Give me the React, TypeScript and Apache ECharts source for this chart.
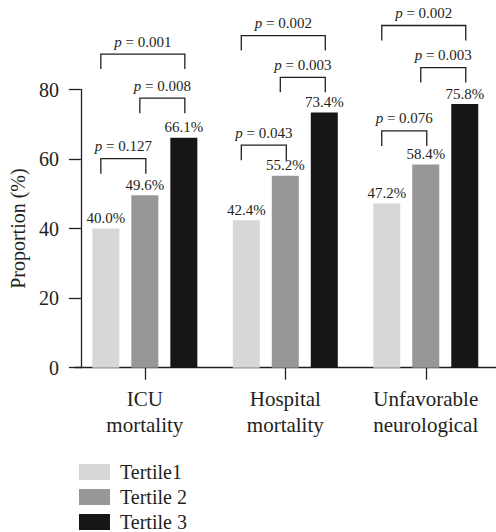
import React, { useEffect, useRef } from "react";
import * as echarts from "echarts";

const categories = ["ICU\nmortality", "Hospital\nmortality", "Unfavorable\nneurological"];
const seriesNames = ["Tertile1", "Tertile 2", "Tertile 3"];
const tertile1 = [40.0, 42.4, 47.2];
const tertile2 = [49.6, 55.2, 58.4];
const tertile3 = [66.1, 73.4, 75.8];
const yTicks = [0, 20, 40, 60, 80];

// [category index, from bar, to bar, bracket top value, p-value]
const brackets: [number, number, number, number, string][] = [
  [0, 0, 1, 60.1, "0.127"],
  [0, 1, 2, 77.5, "0.008"],
  [0, 0, 2, 90.2, "0.001"],
  [1, 0, 1, 64.0, "0.043"],
  [1, 1, 2, 83.5, "0.003"],
  [1, 0, 2, 95.5, "0.002"],
  [2, 0, 1, 68.1, "0.076"],
  [2, 1, 2, 86.3, "0.003"],
  [2, 0, 2, 98.4, "0.002"],
];

const colors = ["#d7d7d7", "#979797", "#161616"];
const FONT = "'Liberation Serif', 'Times New Roman', serif";
const TEXT = "#231f20";
const BAR_W = 27;
const BAR_GAP = 12;

export default function App() {
  const ref = useRef<HTMLDivElement>(null);
  useEffect(() => {
    document.body.style.margin = "0";
    const chart = echarts.init(ref.current!, null, { renderer: "svg" });
    const values = [tertile1, tertile2, tertile3];
    const pitch = BAR_W + BAR_GAP;
    chart.setOption({
      animation: false,
      textStyle: { fontFamily: FONT, color: TEXT },
      grid: { left: 72.7, top: 89.5, width: 430.8, bottom: 164.3 },
      legend: {
        orient: "vertical",
        left: 79,
        top: 462,
        padding: 0,
        itemWidth: 31,
        itemHeight: 16,
        itemGap: 5,
        icon: "rect",
        data: seriesNames,
        textStyle: { fontFamily: FONT, fontSize: 20, lineHeight: 20, color: TEXT, padding: [0, 0, 0, 5] },
      },
      xAxis: {
        type: "category",
        data: categories,
        axisLine: { lineStyle: { color: TEXT, width: 1.3 } },
        axisTick: { show: true, alignWithLabel: true, length: 12, lineStyle: { color: TEXT, width: 1.3 } },
        axisLabel: { fontFamily: FONT, fontSize: 21, lineHeight: 26, color: TEXT, margin: 18 },
      },
      yAxis: {
        type: "value",
        min: yTicks[0],
        max: yTicks[yTicks.length - 1],
        interval: 20,
        offset: -6.3,
        name: "Proportion (%)",
        nameLocation: "middle",
        nameGap: 48,
        nameTextStyle: { fontFamily: FONT, fontSize: 20, color: TEXT },
        axisLine: { show: true, lineStyle: { color: TEXT, width: 1.3 } },
        axisTick: { show: true, length: 12, lineStyle: { color: TEXT, width: 1.3 } },
        axisLabel: { fontFamily: FONT, fontSize: 20, color: TEXT, margin: 22 },
        splitLine: { show: false },
      },
      series: [
        ...values.map((v, i) => ({
          type: "bar",
          name: seriesNames[i],
          data: v,
          barWidth: BAR_W,
          barGap: (BAR_GAP / BAR_W) * 100 + "%",
          itemStyle: { color: colors[i] },
          label: {
            show: true,
            position: "top",
            distance: 3,
            fontFamily: FONT,
            fontSize: 15,
            color: TEXT,
            formatter: (p: any) => Number(p.value).toFixed(1) + "%",
          },
        })),
        {
          type: "custom",
          clip: false,
          silent: true,
          data: brackets.map((b) => [b[0], b[1], b[2], b[3]]),
          encode: { x: 0, y: 3 },
          renderItem: (params: any, api: any) => {
            const b = brackets[params.dataIndex];
            const c = api.coord([api.value(0), api.value(3)]);
            const x1 = c[0] + (b[1] - 1) * pitch - 5;
            const x2 = c[0] + (b[2] - 1) * pitch + 1;
            const y = c[1];
            const leg = 15;
            return {
              type: "group",
              children: [
                {
                  type: "polyline",
                  shape: { points: [[x1, y + leg], [x1, y], [x2, y], [x2, y + leg]] },
                  style: { stroke: TEXT, lineWidth: 1.3, fill: null },
                },
                {
                  type: "text",
                  x: (x1 + x2) / 2,
                  y: y - 5,
                  style: {
                    text: "{i|p} = " + b[4],
                    align: "center",
                    verticalAlign: "bottom",
                    fontFamily: FONT,
                    fontSize: 15,
                    fill: TEXT,
                    rich: { i: { fontStyle: "italic", fontFamily: FONT, fontSize: 15, fill: TEXT } },
                  },
                },
              ],
            };
          },
        },
      ],
    });
    return () => chart.dispose();
  }, []);
  return <div ref={ref} style={{ width: 496, height: 532 }} />;
}
